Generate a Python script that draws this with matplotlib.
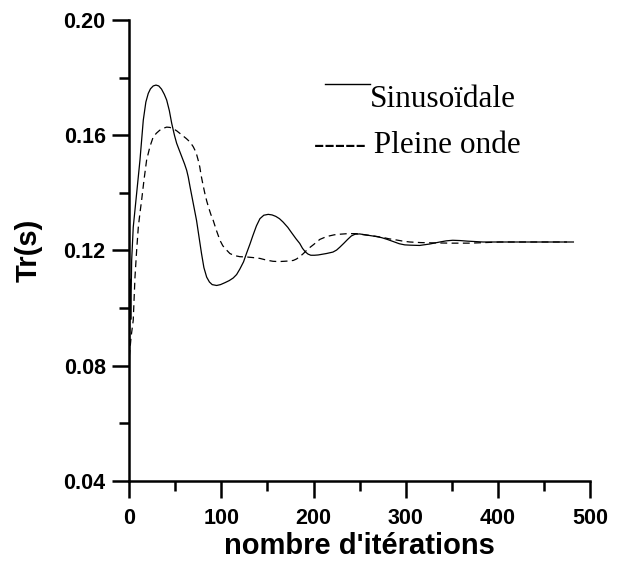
import matplotlib
matplotlib.use("Agg")
import matplotlib.pyplot as plt
from matplotlib.ticker import MultipleLocator, FormatStrFormatter
from matplotlib.lines import Line2D

# ---- data ----
sin_x = [0, 1, 1.6, 2.6, 4.3, 8, 11.6, 15.2, 18, 20.6, 23, 26, 29, 32, 35, 38, 40.6,
         43.5, 46, 49, 51.4, 54, 57, 60, 62.3, 64, 66, 69.5, 73, 76, 78.4, 81, 84, 87,
         90, 94.8, 99, 104, 108.5, 112.8, 116.5, 120, 124, 127.3, 131, 134, 138, 141.8,
         146, 150.8, 155, 159, 163, 167, 172, 176, 181, 185, 188, 191, 194, 197, 201,
         205, 214, 221, 225, 228.5, 233, 237, 241, 245, 250, 256, 262, 268, 274, 280,
         287, 293, 299, 305, 315, 326, 337, 344, 351, 359, 367, 384, 420, 450, 482]
sin_y = [0.074, 0.110, 0.096, 0.1165, 0.128, 0.1398, 0.1513, 0.1652, 0.1715, 0.1745,
         0.1761, 0.1771, 0.1774, 0.1771, 0.1760, 0.1742, 0.1722, 0.1685, 0.1642, 0.1600,
         0.1572, 0.1550, 0.1525, 0.1500, 0.1478, 0.1455, 0.1420, 0.1362, 0.1304, 0.1240,
         0.1189, 0.1140, 0.1107, 0.1090, 0.1081, 0.1078, 0.1081, 0.1088, 0.1095, 0.1104,
         0.1116, 0.1135, 0.1160, 0.1190, 0.1222, 0.1250, 0.1285, 0.1310, 0.1322, 0.1325,
         0.1323, 0.1318, 0.1310, 0.1298, 0.1280, 0.1262, 0.1240, 0.1224, 0.1207, 0.1195,
         0.1187, 0.1183, 0.1183, 0.1184, 0.1189, 0.1194, 0.1201, 0.1211, 0.1225, 0.1238,
         0.1250, 0.1256, 0.1257, 0.1254, 0.1251, 0.1248, 0.1244, 0.1238, 0.1230, 0.1223,
         0.1219, 0.1218, 0.1217, 0.1222, 0.1229, 0.1233, 0.1235, 0.1234, 0.1232, 0.1229,
         0.1229, 0.1229, 0.1229]

pw_x = [0, 2, 4.3, 6.2, 8, 9.8, 11.6, 13.4, 16, 18.8, 22.4, 26, 29.5, 33, 37, 40.6, 44,
        48, 51.5, 55, 58.5, 62, 66, 69.4, 72.5, 74.8, 76.5, 78, 80, 82, 84, 86, 88.5,
        91.1, 94.5, 98.4, 101.5, 105, 109.2, 114, 120, 127.3, 134, 141.8, 149, 156, 162,
        168, 173, 178, 181.5, 185, 189, 192.4, 196, 200, 206.8, 212, 217, 222.5, 228.5,
        237, 246.6, 253, 260, 267, 275, 282, 290, 297, 304.5, 316, 329, 350, 370, 386,
        402, 440, 475]
pw_y = [0.083, 0.090, 0.0957, 0.1107, 0.1200, 0.1280, 0.1330, 0.1374, 0.1445, 0.1513,
        0.1560, 0.1594, 0.1607, 0.1617, 0.1624, 0.1628, 0.1627, 0.1622, 0.1615, 0.1606,
        0.1597, 0.1588, 0.1576, 0.1560, 0.1540, 0.1513, 0.1490, 0.1460, 0.1428, 0.1398,
        0.1372, 0.1350, 0.1325, 0.1304, 0.1270, 0.1235, 0.1216, 0.1203, 0.1189, 0.1182,
        0.1178, 0.1177, 0.1175, 0.1172, 0.1166, 0.1162, 0.1161, 0.1162, 0.1163, 0.1165,
        0.1170, 0.1178, 0.1189, 0.1200, 0.1210, 0.1220, 0.1238, 0.1245, 0.1250, 0.1254,
        0.1256, 0.1258, 0.1258, 0.1255, 0.1252, 0.1249, 0.1245, 0.1240, 0.1236, 0.1232,
        0.1229, 0.1227, 0.1226, 0.1225, 0.1225, 0.1227, 0.1229, 0.1229, 0.1229]

labels = ["Sinusoïdale", "Pleine onde"]
xlabel = "nombre d'itérations"
ylabel = "Tr(s)"

# ---- figure ----
fig = plt.figure(figsize=(6.2, 5.65), dpi=100)
ax = fig.add_axes([0.2085, 0.1492, 0.7431, 0.8154])

ax.plot(sin_x, sin_y, color="black", lw=0.9, solid_joinstyle="round")
ax.plot(pw_x, pw_y, color="black", lw=0.9, dashes=(5.5, 3.5))

ax.set_xlim(0, 500)
ax.set_ylim(0.04, 0.20)
ax.xaxis.set_major_locator(MultipleLocator(100))
ax.xaxis.set_minor_locator(MultipleLocator(50))
ax.yaxis.set_major_locator(MultipleLocator(0.04))
ax.yaxis.set_minor_locator(MultipleLocator(0.02))
ax.yaxis.set_major_formatter(FormatStrFormatter("%.2f"))

for s in ["top", "right"]:
    ax.spines[s].set_visible(False)
for s in ["left", "bottom"]:
    ax.spines[s].set_linewidth(1.8)

ax.tick_params(which="major", direction="out", length=12, width=1.8)
ax.tick_params(which="minor", direction="out", length=7, width=1.8)
ax.tick_params(axis="y", pad=5)
ax.tick_params(axis="x", pad=8)

for lab in ax.get_xticklabels() + ax.get_yticklabels():
    lab.set_fontfamily("Liberation Sans")
    lab.set_fontweight("bold")
    lab.set_fontsize(15.5)

ax.set_xlabel(xlabel, fontfamily="Liberation Sans", fontweight="bold", fontsize=21, labelpad=2)
ax.set_ylabel(ylabel, fontfamily="Liberation Sans", fontweight="bold", fontsize=21, labelpad=15)

# legend drawn as in the reference (line + text)
ax.add_line(Line2D([0.4245, 0.5225], [0.8604, 0.8604], transform=ax.transAxes,
                   color="black", lw=1.0))
ax.text(0.5225, 0.8118, labels[0], transform=ax.transAxes, ha="left", va="baseline",
        fontfamily="Liberation Serif", fontsize=22.5)
ax.text(0.401, 0.712, "----- " + labels[1], transform=ax.transAxes, ha="left",
        va="baseline", fontfamily="Liberation Serif", fontsize=22.5)

fig.savefig("out.png", dpi=100)
